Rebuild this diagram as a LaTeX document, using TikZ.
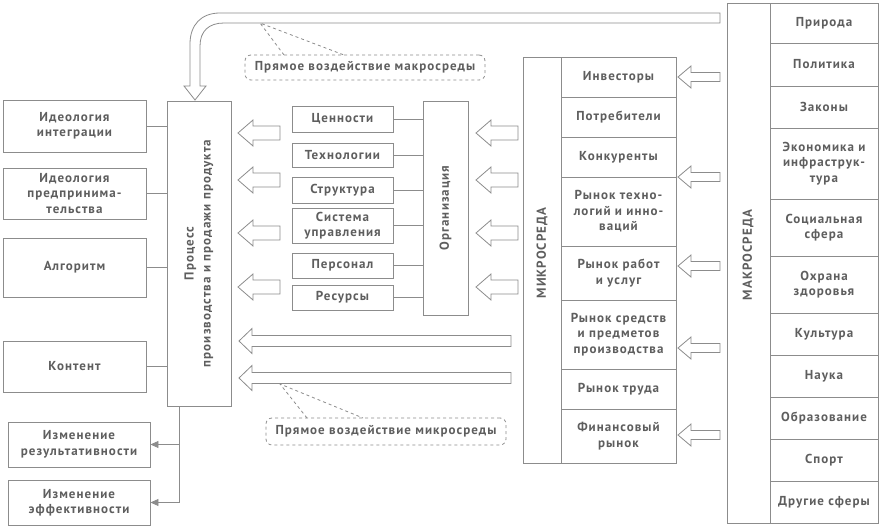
\documentclass[tikz,border=0pt]{standalone}
\usepackage{fontspec}
\setmainfont{PT Sans}
\newfontfamily\diagfont{PT Sans}[LetterSpace=8]
\usetikzlibrary{arrows.meta}
\definecolor{linegray}{HTML}{8C8C8C}
\definecolor{textgray}{HTML}{5E5E5E}
\tikzset{>={Triangle[length=8pt,width=7pt]}}
\tikzset{
  box/.style={draw=linegray, line width=0.9pt, fill=white, text=textgray, align=center,
    font=\diagfont\bfseries\fontsize{13}{15.5}\selectfont, inner sep=0pt},
  label/.style={text=textgray, align=center, font=\diagfont\bfseries\fontsize{13}{17}\selectfont, inner sep=0pt},
  link/.style={draw=linegray, line width=0.9pt},
  hollow/.style={draw=linegray, line width=0.8pt, fill=white},
  note/.style={draw=linegray, dashed, line width=0.8pt, rounded corners=6pt, text=textgray,
    font=\diagfont\bfseries\fontsize{13}{15}\selectfont, inner sep=0pt}
}
% box from corners: name, x1, y1, x2, y2, text
\newcommand\boxat[6]{\node[box, minimum width={#4-#2}, minimum height={#5-#3}] (#1) at ({(#2+#4)/2},{(#3+#5)/2}) {#6};}
% hollow arrow pointing left: tip x, tail x, y, head length, head half width, shaft half width
\newcommand\hollowleft[6]{\draw[hollow] (#1,#3) -- (#1+#4,#3-#5) -- (#1+#4,#3-#6) -- (#2,#3-#6)
  -- (#2,#3+#6) -- (#1+#4,#3+#6) -- (#1+#4,#3+#5) -- cycle;}

\begin{document}
\begin{tikzpicture}[x=1pt, y=-1pt]
\useasboundingbox (0,0) rectangle (879,532);

% macro environment
\boxat{macro}{727}{3}{878}{523}{}
\foreach \t/\b/\txt [count=\i] in {3/43/Природа, 43/86/Политика, 86/128/Законы,
  128/199/{Экономика и\\инфраструк-\\тура}, 199/256/{Социальная\\сфера},
  256/313/{Охрана\\здоровья}, 313/355/Культура, 355/397/Наука, 397/439/Образование,
  439/481/Спорт, 481/523/{Другие сферы}}
{
  \boxat{ma\i}{770}{\t}{878}{\b}{\txt}
}
\node[label, rotate=90] at (748,255) {МАКРОСРЕДА};

% micro environment
\boxat{micro}{523}{57}{676}{463}{}
\foreach \t/\b/\txt [count=\i] in {57/97/Инвесторы, 97/137/Потребители, 137/177/Конкуренты,
  177/246/{Рынок техно-\\логий и инно-\\ваций}, 246/300/{Рынок работ\\и услуг},
  300/369/{Рынок средств\\и предметов\\производства}, 369/409/{Рынок труда},
  409/463/{Финансовый\\рынок}}
{
  \boxat{mi\i}{561}{\t}{676}{\b}{\txt}
}
\node[label, rotate=90] at (542,253) {МИКРОСРЕДА};

% macro -> micro
\foreach \y in {77,177,266,348,435}
{
  \hollowleft{678}{720}{\y}{13}{11}{4.5}
}

% organisation
\boxat{org}{423}{101}{468}{315}{}
\node[label, rotate=90] at (org.center) {Организация};
\foreach \t/\b/\txt [count=\i] in {106/132/Ценности, 143/167/Технологии, 177/203/Структура,
  208/243/{Система\\управления}, 253/278/Персонал, 285/310/Ресурсы}
{
  \boxat{el\i}{292}{\t}{393}{\b}{\txt}
  \draw[link] (el\i.east) -- (el\i.east -| org.west);
}

% micro -> organisation, organisation -> process
\foreach \y in {133,180,233,287}
{
  \hollowleft{476}{518}{\y}{15}{13}{7}
  \hollowleft{238}{280}{\y}{15}{13}{7}
}
\hollowleft{239}{511}{341}{13}{12.5}{5.5}
\hollowleft{239}{511}{378}{13}{12.5}{5.5}

% process
\boxat{process}{167}{101}{231}{406}{}
\node[label, rotate=90] at (process.center) {Процесс\\производства и продажи продукта};

% direct macro influence
\draw[hollow] (720,13) -- (220,13) .. controls (201,13) and (190,25) .. (190,44) -- (190,86)
  -- (184,86) -- (195,100) -- (206,86) -- (200,86) -- (200,46)
  .. controls (200,31) and (209,23) .. (224,23) -- (720,23) -- cycle;
\node[note, minimum width=240, minimum height=25] (macronote) at (365,67.5) {Прямое воздействие макросреды};
\coordinate (macrotip) at (260,23);
\draw[link, dashed, line width=0.8pt] (284,55) -- (macrotip) -- (344,55);

% direct micro influence
\node[note, minimum width=240, minimum height=27] (micronote) at (386,431.5) {Прямое воздействие микросреды};
\coordinate (microtip) at (280,384);
\draw[link, dashed, line width=0.8pt] (307,418) -- (microtip) -- (363,418);

% ideologies
\foreach \t/\b/\txt [count=\i] in {100/152/{Идеология\\интеграции},
  168/219/{Идеология\\предпринима-\\тельства}, 238/297/Алгоритм, 341/392/Контент}
{
  \boxat{id\i}{3}{\t}{146}{\b}{\txt}
  \draw[link] (id\i.east) -- (id\i.east -| process.west);
}

% results
\boxat{res}{8}{422}{150}{467}{Изменение\\результативности}
\boxat{eff}{8}{480}{150}{525}{Изменение\\эффективности}
\coordinate (split) at (179,406);
\draw[link, ->, linegray] (split) |- (res.east);
\draw[link, ->, linegray] (split) |- (eff.east);
\end{tikzpicture}
\end{document}
